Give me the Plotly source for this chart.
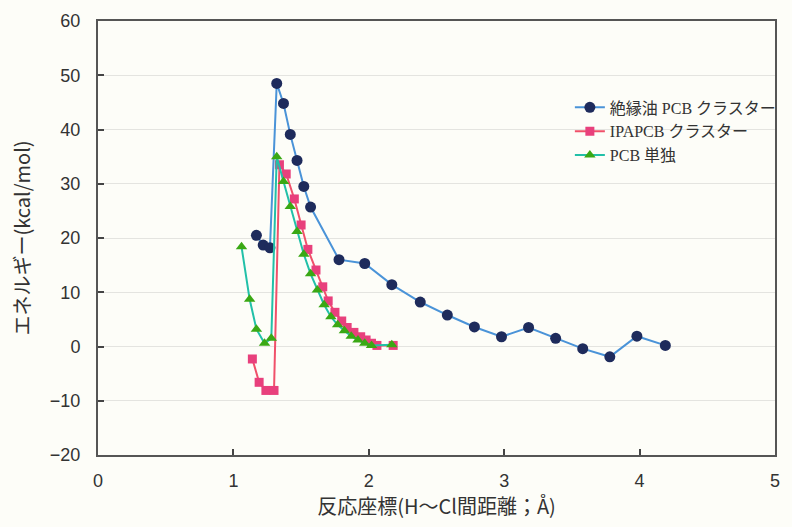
import plotly.graph_objects as go

# 絶縁油 PCB クラスター
x_oil = [1.17, 1.22, 1.27, 1.32, 1.37, 1.42, 1.47, 1.52, 1.57, 1.78, 1.97, 2.17,
         2.38, 2.58, 2.78, 2.98, 3.18, 3.38, 3.58, 3.78, 3.98, 4.19]
y_oil = [20.5, 18.7, 18.2, 48.5, 44.8, 39.1, 34.3, 29.5, 25.7, 16.0, 15.3, 11.4,
         8.2, 5.8, 3.6, 1.8, 3.5, 1.5, -0.4, -1.9, 1.9, 0.2]

# IPAPCB クラスター
x_ipa = [1.14, 1.19, 1.24, 1.30, 1.34, 1.39, 1.45, 1.50, 1.55, 1.61, 1.66, 1.70,
         1.75, 1.80, 1.84, 1.89, 1.94, 1.98, 2.02, 2.06, 2.18]
y_ipa = [-2.3, -6.6, -8.1, -8.1, 33.5, 31.8, 27.2, 22.4, 17.9, 14.1, 11.0, 8.4,
         6.3, 4.7, 3.5, 2.6, 1.8, 1.2, 0.6, 0.2, 0.2]

# PCB 単独
x_pcb = [1.06, 1.12, 1.17, 1.23, 1.28, 1.32, 1.37, 1.42, 1.47, 1.52, 1.57, 1.62,
         1.67, 1.72, 1.77, 1.82, 1.87, 1.92, 1.97, 2.02, 2.17]
y_pcb = [18.4, 8.7, 3.2, 0.6, 1.5, 35.0, 30.4, 25.8, 21.2, 17.0, 13.4, 10.4,
         7.7, 5.5, 4.0, 2.9, 1.9, 1.2, 0.6, 0.2, 0.3]

x_ticks = [0, 1, 2, 3, 4, 5]
y_ticks = [-20, -10, 0, 10, 20, 30, 40, 50, 60]

fig = go.Figure()
fig.add_trace(go.Scatter(
    x=x_oil, y=y_oil, mode="lines+markers", name="絶縁油 PCB クラスター",
    line=dict(color="#4a93d8", width=2),
    marker=dict(symbol="circle", size=11, color="#1e2b5c"),
))
fig.add_trace(go.Scatter(
    x=x_ipa, y=y_ipa, mode="lines+markers", name="IPAPCB クラスター",
    line=dict(color="#f0506a", width=2),
    marker=dict(symbol="square", size=9, color="#e8407c"),
))
fig.add_trace(go.Scatter(
    x=x_pcb, y=y_pcb, mode="lines+markers", name="PCB 単独",
    line=dict(color="#22c0a8", width=2),
    marker=dict(symbol="triangle-up", size=10, color="#3aa814"),
))

tick_font = dict(family="Liberation Sans, Arial, sans-serif", size=18, color="#333333")
title_font = dict(family="Noto Sans CJK JP, sans-serif", size=20, color="#333333")
fig.update_layout(
    width=792, height=527,
    margin=dict(l=98, r=11, t=19, b=72),
    paper_bgcolor="#fdfdf8",
    plot_bgcolor="#fdfdf8",
    showlegend=True,
    legend=dict(
        x=0.697, y=0.84, xanchor="left", yanchor="top",
        bgcolor="rgba(0,0,0,0)",
        font=dict(family="Liberation Serif, Noto Sans CJK JP, serif", size=16, color="#333333"),
        tracegroupgap=0, itemwidth=30,
    ),
    xaxis=dict(
        range=[0, 5], tickvals=x_ticks, ticks="inside", ticklen=6, tickwidth=1.5,
        tickcolor="#444444", showgrid=False, zeroline=False,
        showline=True, linecolor="#555555", linewidth=2, mirror=True,
        tickfont=tick_font, ticklabelstandoff=8,
        title=dict(text="反応座標(H～Cl間距離；Å)", font=title_font, standoff=8),
    ),
    yaxis=dict(
        range=[-20, 60], tickvals=y_ticks, ticks="inside", ticklen=6, tickwidth=1.5,
        tickcolor="#444444", showgrid=True, gridcolor="#e4e4e0", gridwidth=1, zeroline=False,
        showline=True, linecolor="#555555", linewidth=2, mirror=True,
        tickfont=tick_font, ticklabelstandoff=12,
        title=dict(text="エネルギー(kcal/mol)", font=title_font, standoff=14),
    ),
)

fig.write_html("out.html")
